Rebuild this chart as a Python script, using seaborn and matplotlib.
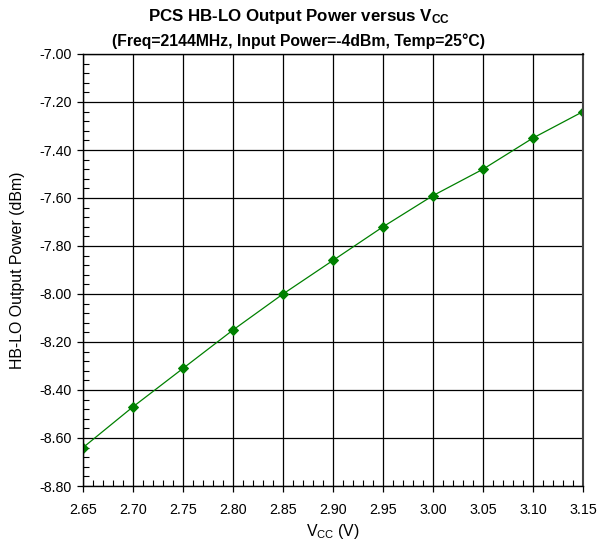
import matplotlib
matplotlib.use("Agg")
import matplotlib.pyplot as plt
import seaborn as sns
import pandas as pd
import numpy as np
from matplotlib.ticker import MultipleLocator, FormatStrFormatter

vcc = [2.65, 2.70, 2.75, 2.80, 2.85, 2.90, 2.95, 3.00, 3.05, 3.10, 3.15]
power = [-8.64, -8.47, -8.31, -8.15, -8.00, -7.86, -7.72, -7.59, -7.48, -7.35, -7.24]

sns.set_theme(style="white")
plt.rcParams['font.family'] = ['Liberation Sans', 'DejaVu Sans']
plt.rcParams['mathtext.fontset'] = 'custom'
plt.rcParams['mathtext.rm'] = 'Liberation Sans'
plt.rcParams['mathtext.it'] = 'Liberation Sans'
plt.rcParams['mathtext.bf'] = 'Liberation Sans:bold'
plt.rcParams['text.color'] = 'black'
plt.rcParams['axes.labelcolor'] = 'black'

df = pd.DataFrame({"vcc": vcc, "power": power})

fig = plt.figure(figsize=(5.98, 5.44), dpi=100)
ax = fig.add_axes([83/598, 1-486/544, 500/598, 432/544])
ax.set_facecolor('white')

sns.lineplot(data=df, x="vcc", y="power", ax=ax, color='#008000', linewidth=0.9,
             marker='D', markersize=5, markeredgecolor='#008000', markerfacecolor='#008000')

ax.set_xlim(2.65, 3.15)
ax.set_ylim(-8.80, -7.00)
ax.xaxis.set_major_locator(MultipleLocator(0.05))
ax.xaxis.set_minor_locator(MultipleLocator(0.01))
ax.yaxis.set_major_locator(MultipleLocator(0.2))
ax.yaxis.set_minor_locator(MultipleLocator(0.04))
ax.xaxis.set_major_formatter(FormatStrFormatter('%.2f'))
ax.yaxis.set_major_formatter(FormatStrFormatter('%.2f'))
ax.grid(True, which='major', color='black', linewidth=0.9)
ax.tick_params(axis='both', which='major', direction='out', length=4, width=0.9,
               labelsize=10.3, colors='black', bottom=True, left=True, pad=4)
ax.tick_params(axis='both', which='minor', direction='in', length=4, width=0.8,
               bottom=True, left=True, colors='black')
ax.tick_params(axis='x', which='major', pad=8)
for s in ax.spines.values():
    s.set_color('black')
    s.set_linewidth(1.0)
ax.spines['right'].set_color('#444444')
ax.spines['right'].set_linewidth(1.5)

ax.set_xlabel("V$_{\\mathregular{CC}}$ (V)", fontsize=11.4, labelpad=4, color='black')
ax.set_ylabel("HB-LO Output Power (dBm)", fontsize=11.4, labelpad=10, color='black')

fig.text(0.5, 1-17/544, "PCS HB-LO Output Power versus V$_{\\mathbf{CC}}$",
         ha='center', va='center', fontsize=12.2, fontweight='bold', color='black')
fig.text(0.5, 1-41/544, "(Freq=2144MHz, Input Power=-4dBm, Temp=25°C)",
         ha='center', va='center', fontsize=11.3, fontweight='bold', color='black')

fig.savefig("out.png", dpi=100)
